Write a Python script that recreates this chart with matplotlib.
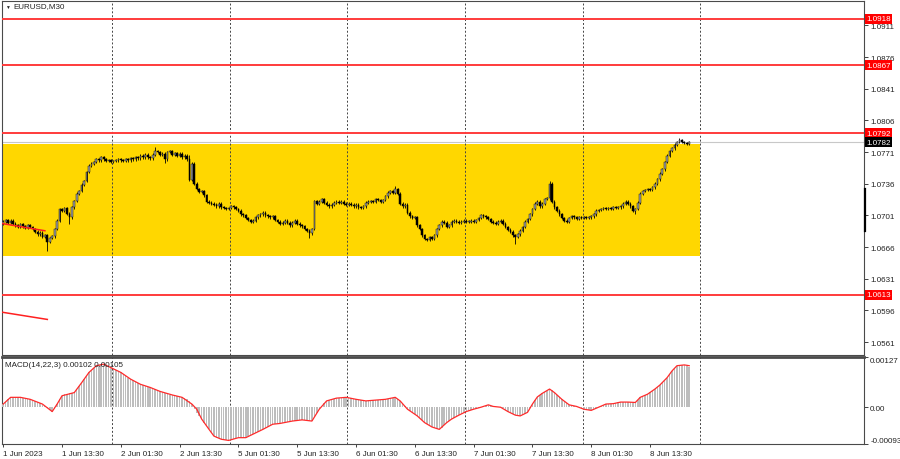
import numpy as np
import matplotlib
matplotlib.use('Agg')
import matplotlib.pyplot as plt
from matplotlib.patches import Rectangle
from matplotlib.lines import Line2D

plt.rcParams['font.family'] = ['Liberation Sans', 'DejaVu Sans']

symbol = 'EURUSD,M30'

# M30 closes, bar 0 = 1 Jun 2023 01:30
closes = [
    1.0694, 1.0696, 1.0693, 1.0695, 1.0692, 1.0690, 1.0688, 1.0691, 1.0689, 1.0687,
    1.0690, 1.0688, 1.0686, 1.0683, 1.0680, 1.0682, 1.0677, 1.0679, 1.0672, 1.0676,
    1.0678, 1.0686, 1.0695, 1.0708, 1.0706, 1.0709, 1.0703, 1.0699, 1.0710, 1.0717,
    1.0725, 1.0728, 1.0735, 1.0739, 1.0749, 1.0756, 1.0758, 1.0760, 1.0763, 1.0762,
    1.0765, 1.0763, 1.0761, 1.0762, 1.0760, 1.0761, 1.0762, 1.0763, 1.0762, 1.0761,
    1.0763, 1.0762, 1.0764, 1.0763, 1.0765, 1.0764, 1.0767, 1.0765, 1.0768, 1.0765,
    1.0764, 1.0768, 1.0772, 1.0771, 1.0768, 1.0769, 1.0763, 1.0771, 1.0772, 1.0768,
    1.0770, 1.0767, 1.0769, 1.0765, 1.0767, 1.0763, 1.0740, 1.0758, 1.0736, 1.0730,
    1.0727, 1.0728, 1.0723, 1.0716, 1.0715, 1.0714, 1.0713, 1.0711, 1.0714, 1.0710,
    1.0709, 1.0708, 1.0709, 1.0711, 1.0710, 1.0708, 1.0706, 1.0702, 1.0701, 1.0698,
    1.0696, 1.0694, 1.0695, 1.0699, 1.0701, 1.0702, 1.0704, 1.0701, 1.0700, 1.0699,
    1.0700, 1.0696, 1.0694, 1.0692, 1.0693, 1.0695, 1.0693, 1.0690, 1.0693, 1.0695,
    1.0692, 1.0690, 1.0689, 1.0686, 1.0684, 1.0681, 1.0686, 1.0717, 1.0714, 1.0716,
    1.0719, 1.0715, 1.0713, 1.0711, 1.0713, 1.0715, 1.0716, 1.0715, 1.0716, 1.0714,
    1.0713, 1.0714, 1.0713, 1.0711, 1.0713, 1.0710, 1.0709, 1.0711, 1.0715, 1.0716,
    1.0717, 1.0716, 1.0719, 1.0718, 1.0716, 1.0718, 1.0722, 1.0726, 1.0728, 1.0726,
    1.0730, 1.0725, 1.0714, 1.0711, 1.0713, 1.0704, 1.0700, 1.0698, 1.0699, 1.0690,
    1.0686, 1.0679, 1.0675, 1.0674, 1.0677, 1.0675, 1.0679, 1.0686, 1.0690, 1.0694,
    1.0693, 1.0688, 1.0690, 1.0694, 1.0695, 1.0694, 1.0693, 1.0694, 1.0695, 1.0694,
    1.0694, 1.0695, 1.0694, 1.0696, 1.0698, 1.0701, 1.0700, 1.0699, 1.0697, 1.0694,
    1.0693, 1.0692, 1.0694, 1.0695, 1.0692, 1.0688, 1.0685, 1.0683, 1.0679, 1.0677,
    1.0680, 1.0684, 1.0688, 1.0694, 1.0697, 1.0702, 1.0708, 1.0714, 1.0716, 1.0711,
    1.0714, 1.0719, 1.0720, 1.0736, 1.0716, 1.0710, 1.0706, 1.0702, 1.0698, 1.0695,
    1.0694, 1.0698, 1.0700, 1.0699, 1.0697, 1.0699, 1.0698, 1.0699, 1.0698, 1.0699,
    1.0700, 1.0702, 1.0706, 1.0707, 1.0708, 1.0709, 1.0708, 1.0709, 1.0708, 1.0710,
    1.0709, 1.0710, 1.0711, 1.0714, 1.0716, 1.0714, 1.0711, 1.0706, 1.0708, 1.0715,
    1.0725, 1.0728, 1.0729, 1.0730, 1.0729, 1.0732, 1.0736, 1.0741, 1.0747, 1.0752,
    1.0760, 1.0767, 1.0772, 1.0775, 1.0779, 1.0782, 1.0784, 1.0782, 1.0781, 1.0780,
    1.0782,
]
first_open = 1.0692
wick = 0.00015
high_spikes = {62: 1.0777, 76: 1.0768, 160: 1.0734, 223: 1.0739, 276: 1.0787}
low_spikes = {18: 1.0662, 27: 1.0691, 66: 1.0759, 125: 1.0676, 209: 1.0669, 258: 1.0702}

levels = [1.0918, 1.0867, 1.0792, 1.0613]
last_price = 1.0782
zone_low, zone_high = 1.0656, 1.0780
zone_end_bar = 285
trend_lines = [((-0.5, 1.0692), (17, 1.0684)), ((-0.5, 1.0594), (18, 1.0586))]
price_ticks = [1.0911, 1.0876, 1.0841, 1.0806, 1.0771, 1.0736, 1.0701,
               1.0666, 1.0631, 1.0596, 1.0561]

# MACD(14,22,3) main histogram, in 0.00001 units
macd_hist = [
    8, 14, 20, 25, 26, 26, 25, 25, 24, 23, 21, 20, 18, 16, 13, 10, 6,
    2, -3, -8, -11, -4, 8, 20, 29, 33, 34, 35, 36, 38, 45, 54, 62, 71, 80,
    88, 95, 100, 105, 108, 110, 109, 107, 104, 100, 97, 94, 91, 88, 84, 80, 75,
    71, 68, 64, 61, 58, 56, 54, 52, 50, 48, 46, 43, 40, 38, 36, 34, 32,
    31, 30, 28, 27, 25, 24, 22, 16, 8, -5, -15, -22, -30, -40, -48,
    -56, -65, -73, -77, -79, -81, -82, -83, -84, -83, -81, -79, -77, -77, -77,
    -77, -74, -71, -68, -65, -62, -59, -56, -53, -50, -46, -43, -42, -42,
    -41, -40, -38, -37, -36, -35, -34, -33, -32, -32, -33, -34, -35,
    -35, -25, -14, -5, 3, 10, 16, 18, 20, 22, 23, 24, 24, 25, 25, 24, 23, 21,
    20, 19, 18, 17, 16, 16, 17, 17, 18, 18, 19, 19, 20, 21, 23, 24,
    25, 22, 16, 9, 2, -5, -10, -14, -18, -22, -28, -33, -39, -43, -47, -50,
    -53, -55, -56, -52, -45, -39, -34, -30, -27, -23, -20, -17, -14, -11,
    -9, -7, -5, -3, -1, 0, 2, 4, 6, 4, 2, 1, 0, 0, -3, -7, -11, -14, -17,
    -20, -21, -22, -20, -17, -13, -3, 8, 17, 26, 30, 35, 38, 42, 46,
    43, 37, 32, 26, 20, 15, 10, 6, 4, 3, 2, 0, -3, -5, -6, -7, -8, -5, -2,
    0, 3, 6, 8, 8, 9, 9, 10, 12, 13, 13, 14, 13, 12, 11, 12, 18,
    25, 28, 30, 33, 38, 42, 46, 51, 56, 62, 68, 75, 84, 92, 98,
    105, 107, 107, 106, 104, 102,
]
signal_bars = [0, 3, 7, 11, 16, 20, 22, 24, 29, 32, 35, 38, 41, 44, 48, 52, 56, 60,
               64, 69, 73, 77, 79, 81, 84, 86, 89, 92, 96, 99, 102, 106, 110, 113,
               118, 122, 126, 129, 132, 136, 140, 144, 148, 152, 156, 160, 162, 165,
               169, 172, 175, 178, 181, 183, 186, 189, 192, 195, 198, 200, 203, 206,
               209, 211, 214, 216, 218, 220, 223, 225, 228, 231, 234, 237, 240, 243,
               246, 249, 252, 255, 258, 260, 263, 266, 268, 271, 273, 275, 278, 280]
signal = [8, 25, 25, 20, 8, -11, 8, 29, 37, 62, 88, 105, 109, 100, 88, 71, 58, 50,
          40, 31, 25, 8, -5, -30, -56, -73, -81, -84, -77, -77, -68, -56, -43, -41,
          -35, -32, -35, -5, 16, 23, 25, 20, 16, 18, 20, 25, 16, -5,
          -22, -39, -50, -56, -39, -30, -20, -11, -5, 0, 6, 2, 0, -11,
          -20, -22, -13, 8, 26, 35, 46, 37, 20, 6, 2, -5, -8, 0,
          8, 9, 13, 13, 12, 25, 33, 46, 56, 75, 92, 105, 107, 105]
macd_top, macd_bottom = 0.00127, -0.00093

day_starts = [45, 93, 141, 189, 237, 285]
label_bars = [0, 24, 48, 72, 96, 120, 144, 168, 192, 216, 240, 264]
label_texts = ['1 Jun 2023', '1 Jun 13:30', '2 Jun 01:30', '2 Jun 13:30',
               '5 Jun 01:30', '5 Jun 13:30', '6 Jun 01:30', '6 Jun 13:30',
               '7 Jun 01:30', '7 Jun 13:30', '8 Jun 01:30', '8 Jun 13:30']

# ---- layout (pixel boxes of the MT4 window)
W, H = 900, 460
px = 2.45  # pixels per bar


def box(x0, y0, x1, y1):
    return [x0 / W, 1 - y1 / H, (x1 - x0) / W, (y1 - y0) / H]


fig = plt.figure(figsize=(9, 4.6), dpi=100)
ax = fig.add_axes(box(2, 2, 864, 356))
axm = fig.add_axes(box(2, 358, 864, 445), sharex=ax)

xmax = -0.5 + 862 / px
ax.set_xlim(-0.5, xmax)
ax.set_ylim(1.0918 - 336 / 9049, 1.0918 + 18 / 9049)
axm.set_ylim(macd_bottom, macd_top)

fs = 5.8
edge = '#4a4a4a'
for a in (ax, axm):
    for s in a.spines.values():
        s.set_color(edge)
        s.set_linewidth(0.8)
axm.spines['top'].set_linewidth(2.0)

# zone
ax.add_patch(Rectangle((-0.5, zone_low), zone_end_bar, zone_high - zone_low,
                       facecolor='#ffd700', edgecolor='none', zorder=1))

# grid
for d in day_starts:
    for a in (ax, axm):
        a.axvline(d - 0.5, color='#444444', lw=0.7, ls=(0, (2, 2)), zorder=2)

# levels
ax.axhline(last_price, color='#c8c8c8', lw=0.8, zorder=2)
for lv in levels:
    ax.axhline(lv, color='#ff3b3b', lw=1.4, zorder=3)

# candles
c = np.array(closes)
o = np.concatenate([[first_open], c[:-1]])
xb = np.arange(len(c))
hi = np.maximum(o, c) + wick
lo = np.minimum(o, c) - wick
for k, v in high_spikes.items():
    hi[k] = v
for k, v in low_spikes.items():
    lo[k] = v
ax.vlines(xb, lo, hi, color='black', lw=0.6, zorder=4)
up = c >= o
body = np.maximum(np.abs(c - o), 0.00004)
ax.bar(xb[up], body[up], bottom=np.minimum(o, c)[up], width=0.7,
       color='#a0a0a0', edgecolor='#1a1a1a', lw=0.35, zorder=5)
ax.bar(xb[~up], body[~up], bottom=np.minimum(o, c)[~up], width=0.7,
       color='black', edgecolor='black', lw=0.35, zorder=5)

for (x0, y0), (x1, y1) in trend_lines:
    ax.plot([x0, x1], [y0, y1], color='#ff2020', lw=1.1, zorder=6)

# right price scale
ax.yaxis.tick_right()
ax.set_yticks(price_ticks)
ax.set_yticklabels([f'{p:.4f}' for p in price_ticks])
ax.tick_params(axis='y', length=3, width=0.6, labelsize=fs, pad=1.5,
               colors='#222222')
ax.tick_params(axis='x', bottom=False, labelbottom=False)
for lv in levels:
    ax.text(1.0025, lv, f'{lv:.4f}', transform=ax.get_yaxis_transform(),
            ha='left', va='center', color='white', fontsize=fs, zorder=10,
            bbox=dict(boxstyle='square,pad=0.18', fc='#ff0000', ec='none'),
            clip_on=False)
ax.text(1.0025, last_price, f'{last_price:.4f}', transform=ax.get_yaxis_transform(),
        ha='left', va='center', color='white', fontsize=fs, zorder=10,
        bbox=dict(boxstyle='square,pad=0.18', fc='black', ec='none'),
        clip_on=False)

# MACD
mh = np.array(macd_hist) * 1e-5
axm.bar(np.arange(len(mh)), mh, width=0.6, color='#bdbdbd', lw=0, zorder=3)
axm.plot(signal_bars, np.array(signal) * 1e-5, color='#ff2a2a', lw=0.9, zorder=4)
axm.yaxis.tick_right()
axm.set_yticks([macd_top, 0.0, macd_bottom])
axm.set_yticklabels(['0.00127', '0.00', '-0.00093'])
axm.tick_params(axis='y', length=3, width=0.6, labelsize=fs, pad=1.5,
                colors='#222222')
yl = axm.get_yticklabels()
yl[0].set_va('top')
yl[2].set_va('bottom')

axm.set_xticks(label_bars)
axm.set_xticklabels(label_texts)
axm.tick_params(axis='x', length=2.5, width=0.6, labelsize=fs, pad=1.5,
                colors='#222222')
for t in axm.get_xticklabels():
    t.set_ha('left')

axm.text(0.003, 0.91, f'MACD(14,22,3) {mh[-1]:.5f} {signal[-1] * 1e-5:.5f}',
         transform=axm.transAxes, ha='left', va='center', fontsize=fs,
         color='#222222', zorder=10)

# header
fig.text(5 / W, 1 - 7 / H, '\u25bc', fontsize=3.5, ha='left', va='center',
         color='#222222')
fig.text(13 / W, 1 - 7 / H, symbol, fontsize=fs, ha='left', va='center',
         color='#222222')

fig.add_artist(Line2D([865 / W, 865 / W], [1 - 190 / H, 1 - 232 / H],
                      color='black', lw=1.6, transform=fig.transFigure))

fig.savefig('out.png', dpi=100)
